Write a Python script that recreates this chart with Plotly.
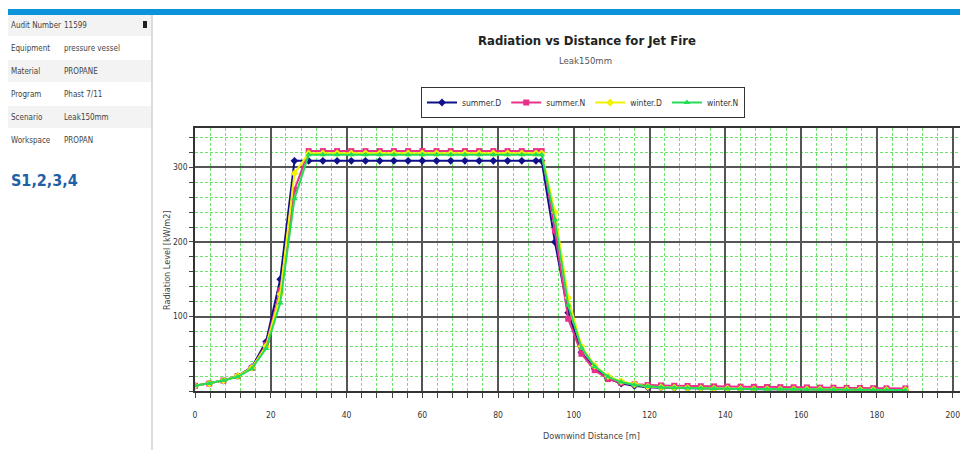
import plotly.graph_objects as go

# ---------------- data ----------------
distance = [0, 3.75, 7.5, 11.25, 15, 18.75, 22.5, 26.25, 30, 33.75, 37.5, 41.25, 45, 48.75,
            52.5, 56.25, 60, 63.75, 67.5, 71.25, 75, 78.75, 82.5, 86.25, 90, 91.5, 95, 98.5,
            102, 105.5, 109, 112.5, 116, 119.5, 123, 126.5, 130, 133.5, 137, 140.5, 144,
            147.5, 151, 154.5, 158, 161.5, 165, 168.5, 172, 175.5, 179, 182.5, 187.5]

summer_d = [7, 10, 14, 20, 32, 66, 150, 309, 309, 309, 309, 309, 309, 309,
            309, 309, 309, 309, 309, 309, 309, 309, 309, 309, 309, 309, 200, 105,
            52, 30, 17, 10, 7, 5, 4.5, 4, 3.7, 3.4, 3.1, 2.9, 2.7,
            2.5, 2.3, 2.2, 2.1, 2, 1.9, 1.8, 1.7, 1.6, 1.5, 1.4, 1.3]

summer_n = [7, 10, 14, 20, 31, 62, 135, 270, 322, 322, 322, 322, 322, 322,
            322, 322, 322, 322, 322, 322, 322, 322, 322, 322, 322, 322, 215, 97,
            50, 28, 16, 11, 9, 8, 7.5, 7, 6.7, 6.4, 6.2, 6, 5.8,
            5.6, 5.4, 5.2, 5, 4.8, 4.6, 4.4, 4.2, 4, 3.8, 3.6, 3.5]

winter_d = [7, 10, 14, 20, 31, 60, 130, 292, 319, 319, 319, 319, 319, 319,
            319, 319, 319, 319, 319, 319, 319, 319, 319, 319, 319, 319, 240, 125,
            60, 34, 20, 13, 9, 6, 5, 4.5, 4, 3.6, 3.3, 3, 2.8,
            2.6, 2.4, 2.3, 2.2, 2.1, 2, 1.9, 1.8, 1.7, 1.6, 1.5, 1.4]

winter_n = [7, 10, 14, 19, 30, 57, 118, 258, 317, 317, 317, 317, 317, 317,
            317, 317, 317, 317, 317, 317, 317, 317, 317, 317, 317, 317, 230, 115,
            58, 33, 19, 12, 8, 6, 5, 4.5, 4, 3.6, 3.3, 3, 2.8,
            2.6, 2.4, 2.3, 2.2, 2.1, 2, 1.9, 1.8, 1.7, 1.6, 1.5, 1.4]

series_names = ["summer.D", "summer.N", "winter.D", "winter.N"]
series_colors = ["#10108a", "#e8308a", "#f2f200", "#22dd55"]
series_symbols = ["diamond", "square", "diamond", "triangle-up"]

x_ticks = [0, 20, 40, 60, 80, 100, 120, 140, 160, 180, 200]
y_ticks = [100, 200, 300]

info_labels = ["Audit Number", "Equipment", "Material", "Program", "Scenario", "Workspace"]
info_values = ["11599", "pressure vessel", "PROPANE", "Phast 7/11", "Leak150mm", "PROPAN"]

# ---------------- layout helpers ----------------
O = 8                      # page body margin offset
W, H = 968 - O, 450 - O    # figure size
L, R, T, B = 195 - O, 2, 128 - O, 59
PW, PH = W - L - R, H - T - B


def px(xp):
    return (xp - O - L) / PW


def py(yp):
    return (H - B - (yp - O)) / PH


FONT = "DejaVu Sans Condensed, Liberation Sans Narrow, Liberation Sans, Arial"

fig = go.Figure()
for name, ys, col, sym in zip(series_names, [summer_d, summer_n, winter_d, winter_n],
                              series_colors, series_symbols):
    fig.add_trace(go.Scatter(
        x=distance, y=ys, name=name, mode="lines+markers",
        line=dict(color=col, width=2),
        marker=dict(color=col, symbol=sym, size=6),
    ))

tick_font = dict(family=FONT, size=8.5, color="#333")

fig.update_xaxes(
    range=[0, 203.5], tickvals=x_ticks, ticks="outside", ticklen=5, tickcolor="#444",
    showgrid=True, gridcolor="#555", gridwidth=1.5,
    showline=True, linecolor="#333", linewidth=1.5, mirror=True,
    tickfont=tick_font, ticklabelstandoff=10, zeroline=False,
    minor=dict(dtick=4, tick0=0, showgrid=True, gridcolor="#6de36d", griddash="3px,2px",
               gridwidth=1, ticks="outside", ticklen=5, tickcolor="#444"),
)
fig.update_yaxes(
    range=[0, 353], tickvals=y_ticks, ticks="outside", ticklen=4, tickcolor="#444",
    showgrid=True, gridcolor="#555", gridwidth=1.5,
    showline=True, linecolor="#333", linewidth=1.5, mirror=False,
    tickfont=tick_font, zeroline=False,
    minor=dict(dtick=20, tick0=0, showgrid=True, gridcolor="#6de36d", griddash="3px,2px",
               gridwidth=1, ticks="outside", ticklen=4, tickcolor="#444"),
)

shapes = []
# top blue bar
shapes.append(dict(type="rect", xref="paper", yref="paper", x0=px(5), x1=px(968),
                   y0=py(15), y1=py(9), fillcolor="#0b94d9", line=dict(width=0), layer="above"))
# info panel rows
row_centers = [25, 48, 71, 94, 117, 140]
for i, yc in enumerate(row_centers):
    if i % 2 == 0:
        shapes.append(dict(type="rect", xref="paper", yref="paper", x0=px(7), x1=px(151),
                           y0=py(yc + 11), y1=py(yc - 11), fillcolor="#f3f3f3",
                           line=dict(width=0), layer="below"))
# panel borders
shapes.append(dict(type="line", xref="paper", yref="paper", x0=px(152), x1=px(152),
                   y0=py(450), y1=py(15), line=dict(color="#cfcfcf", width=1.5)))
shapes.append(dict(type="line", xref="paper", yref="paper", x0=px(6), x1=px(6),
                   y0=py(450), y1=py(15), line=dict(color="#d8d8d8", width=1)))
# close marker
shapes.append(dict(type="rect", xref="paper", yref="paper", x0=px(143), x1=px(147),
                   y0=py(28), y1=py(21), fillcolor="#222", line=dict(width=0)))

annotations = []
lab_font = dict(family=FONT, size=8, color="#444")
for lab, val, yc in zip(info_labels, info_values, row_centers):
    annotations.append(dict(text=lab, x=px(9), y=py(yc), xref="paper", yref="paper",
                            xanchor="left", yanchor="middle", showarrow=False, font=lab_font))
    annotations.append(dict(text=val, x=px(62), y=py(yc), xref="paper", yref="paper",
                            xanchor="left", yanchor="middle", showarrow=False, font=lab_font))
annotations.append(dict(text="<b>S1,2,3,4</b>", x=px(9), y=py(180), xref="paper", yref="paper",
                        xanchor="left", yanchor="middle", showarrow=False,
                        font=dict(family=FONT, size=16, color="#1f5fa8")))
# title / subtitle
annotations.append(dict(text="<b>Radiation vs Distance for Jet Fire</b>", x=px(587), y=py(40),
                        xref="paper", yref="paper", xanchor="center", yanchor="middle",
                        showarrow=False, font=dict(family=FONT, size=13, color="#222")))
annotations.append(dict(text="Leak150mm", x=px(585), y=py(61), xref="paper", yref="paper",
                        xanchor="center", yanchor="middle", showarrow=False,
                        font=dict(family=FONT, size=9.5, color="#555")))
# axis titles
annotations.append(dict(text="Radiation Level [kW/m2]", x=px(167), y=py(260), xref="paper",
                        yref="paper", xanchor="center", yanchor="middle", showarrow=False,
                        textangle=-90, font=dict(family=FONT, size=9, color="#444")))
annotations.append(dict(text="Downwind Distance [m]", x=px(591), y=py(436), xref="paper",
                        yref="paper", xanchor="center", yanchor="middle", showarrow=False,
                        font=dict(family=FONT, size=9, color="#444")))

fig.update_layout(
    width=W, height=H,
    margin=dict(l=L, r=R, t=T, b=B),
    paper_bgcolor="white", plot_bgcolor="white",
    showlegend=True,
    legend=dict(orientation="h", x=px(583), y=py(87), xanchor="center", yanchor="top",
                bordercolor="#333", borderwidth=1, bgcolor="white",
                font=dict(family=FONT, size=8.5, color="#333"),
                itemwidth=30, tracegroupgap=0),
    shapes=shapes, annotations=annotations,
)

fig.write_html("out.html")
